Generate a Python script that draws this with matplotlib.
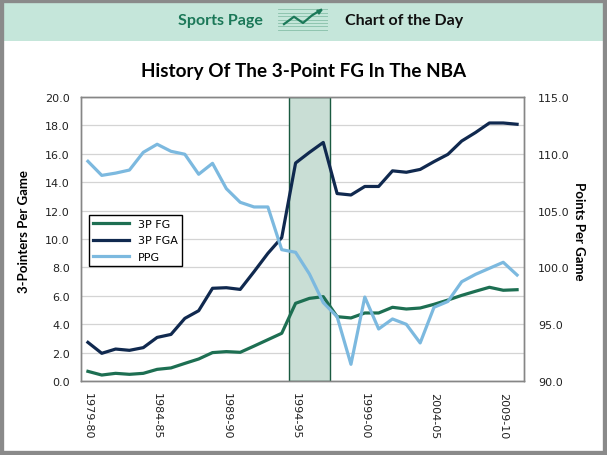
import numpy as np
import matplotlib
matplotlib.use("Agg")
import matplotlib.pyplot as plt
from matplotlib.patches import Rectangle

# =========================
# Data
# =========================
seasons = [f"{y}-{str(y + 1)[-2:]}" for y in range(1979, 2011)]

fg3 = [0.68, 0.42, 0.54, 0.47, 0.54, 0.82, 0.92, 1.24, 1.55, 2.00,
       2.07, 2.02, 2.46, 2.91, 3.36, 5.47, 5.82, 5.94, 4.53, 4.44,
       4.79, 4.79, 5.19, 5.07, 5.14, 5.40, 5.70, 6.03, 6.32, 6.60,
       6.39, 6.43]

fga3 = [2.72, 1.95, 2.25, 2.16, 2.35, 3.07, 3.28, 4.41, 4.95, 6.53,
        6.57, 6.45, 7.70, 8.99, 10.1, 15.35, 16.1, 16.8, 13.2, 13.1,
        13.7, 13.7, 14.8, 14.7, 14.9, 15.45, 15.96, 16.9, 17.5, 18.17,
        18.17, 18.08]

ppg = [109.34, 108.1, 108.3, 108.57, 110.13, 110.84, 110.22, 109.96, 108.2, 109.16,
       106.93, 105.73, 105.32, 105.32, 101.56, 101.33, 99.42, 96.9, 95.66, 91.47,
       97.39, 94.58, 95.46, 94.99, 93.35, 96.49, 97.0, 98.74, 99.39, 99.92,
       100.45, 99.33]

shade_start = "1994-95"
shade_end = "1996-97"

green = "#1d6f52"
navy = "#10294f"
light_blue = "#7cb9df"

x = np.arange(len(seasons))

# =========================
# Figure
# =========================
fig = plt.figure(figsize=(6.07, 4.56), dpi=100)
fig.patch.set_facecolor("white")

# outer grey frame and header band
fig.patches.append(Rectangle((0, 0), 1, 1, transform=fig.transFigure,
                             facecolor="none", edgecolor="#8a8a8a",
                             linewidth=6, zorder=10))
fig.patches.append(Rectangle((0, 1 - 42 / 456), 1, 38 / 456,
                             transform=fig.transFigure,
                             facecolor="#c5e6da", edgecolor="none", zorder=-5))

fig.text(220 / 607, 1 - 21 / 456, "Sports Page", ha="center", va="center",
         fontsize=11.5, fontweight="bold", family="Lato", color="#1b7858")
fig.text(404 / 607, 1 - 21 / 456, "Chart of the Day", ha="center", va="center",
         fontsize=11.5, fontweight="bold", family="Lato", color="#111111")

# little chart icon in header
icon = fig.add_axes([278 / 607, 1 - 32 / 456, 50 / 607, 23 / 456])
icon.set_zorder(5)
icon.set_xlim(0, 1)
icon.set_ylim(0, 1)
icon.axis("off")
for yy in np.linspace(0.05, 0.95, 7):
    icon.plot([0, 1], [yy, yy], color="#86bfa8", linewidth=0.6)
icon.plot([0.12, 0.32, 0.5, 0.68, 0.86], [0.3, 0.62, 0.35, 0.68, 0.92],
          color="#1b7858", linewidth=1.6)
icon.annotate("", xy=(0.95, 1.0), xytext=(0.8, 0.82),
              arrowprops=dict(arrowstyle="-|>", color="#1b7858", lw=1.2,
                              mutation_scale=7))

fig.text(0.5, 1 - 72 / 456, "History Of The 3-Point FG In The NBA",
         ha="center", va="center", fontsize=13.6, fontweight="bold",
         family="Lato", color="black")

# =========================
# Main chart
# =========================
ax = fig.add_axes([81 / 607, 74 / 456, 443 / 607, 284 / 456])
ax2 = ax.twinx()

s0 = seasons.index(shade_start)
s1 = seasons.index(shade_end)
ax.axvspan(s0 - 0.5, s1 + 0.5, facecolor="#c9ded5", edgecolor="#1a5a40",
           linewidth=1.0, zorder=1)

l1, = ax.plot(x, fg3, color=green, linewidth=2.3, label="3P FG", zorder=3)
l2, = ax.plot(x, fga3, color=navy, linewidth=2.3, label="3P FGA", zorder=3)
l3, = ax2.plot(x, ppg, color=light_blue, linewidth=2.3, label="PPG", zorder=3)

ax.set_xlim(-0.5, len(seasons) - 0.5)
ax.set_ylim(0, 20)
ax2.set_ylim(90, 115)

ax.set_yticks(np.arange(0, 20.1, 2))
ax.set_yticklabels([f"{v:.1f}" for v in np.arange(0, 20.1, 2)])
ax2.set_yticks(np.arange(90, 115.1, 5))
ax2.set_yticklabels([f"{v:.1f}" for v in np.arange(90, 115.1, 5)])

ax.set_xticks(x[::5])
ax.set_xticklabels(seasons[::5], rotation=270)

ax.grid(axis="y", color="#d4d4d4", linewidth=0.9, zorder=0)
ax.set_axisbelow(True)

for a in (ax, ax2):
    for sp in a.spines.values():
        sp.set_color("#868686")
        sp.set_linewidth(1.0)
    a.tick_params(length=0, labelsize=8, colors="#222222")
ax.tick_params(axis="y", pad=8)
ax2.tick_params(axis="y", pad=10)
ax.tick_params(axis="x", pad=8)

ax.set_ylabel("3-Pointers Per Game", fontsize=9.5, fontweight="bold",
              family="Lato")
ax.yaxis.set_label_coords(-0.115, 0.53)
ax2.set_ylabel("Points Per Game", fontsize=9.5, fontweight="bold",
               family="Lato", rotation=270, va="bottom")
ax2.yaxis.set_label_coords(1.11, 0.53)

leg = ax2.legend(handles=[l1, l2, l3], loc="lower left",
                 bbox_to_anchor=(0.018, 0.405), borderaxespad=0,
                 fancybox=False, edgecolor="black", framealpha=1,
                 fontsize=8, handlelength=3.2, labelspacing=0.55)
leg.get_frame().set_linewidth(1.0)

fig.savefig("out.png", dpi=100)
